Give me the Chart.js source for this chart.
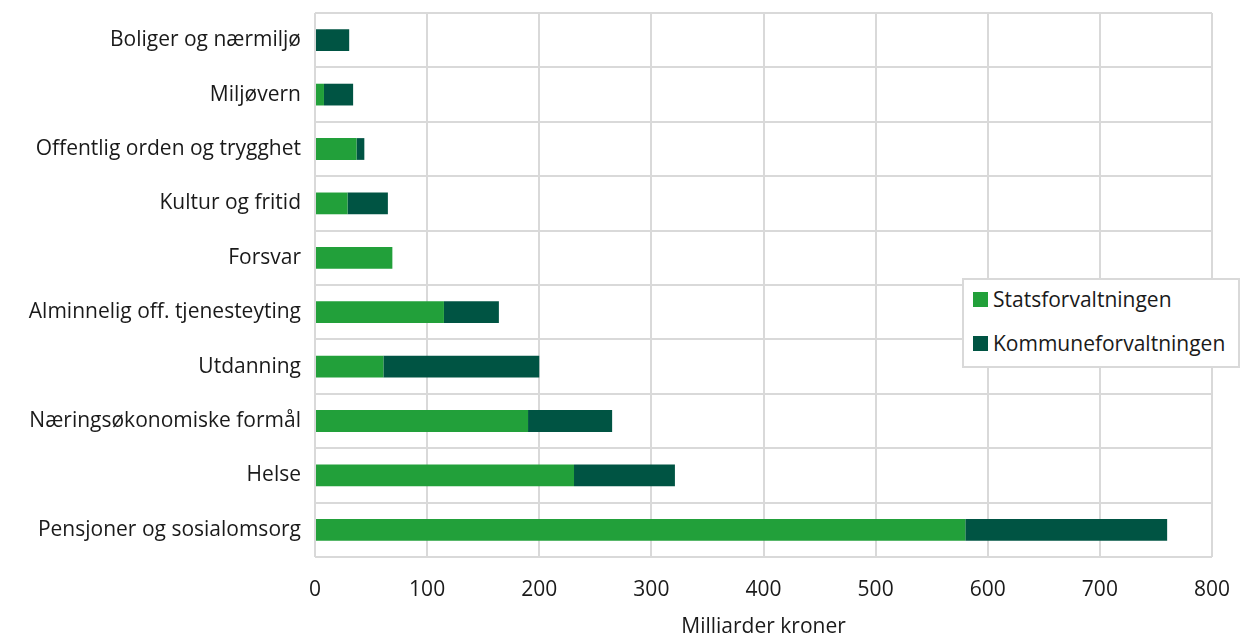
<!DOCTYPE html>
<html>
<head>
<meta charset="utf-8">
<script src="https://cdn.jsdelivr.net/npm/chart.js@4"></script>
<style>
  html, body { margin: 0; padding: 0; background: #fff; }
  #wrap { position: relative; width: 1242px; height: 636px; }
  #legend { position: absolute; left: 962px; top: 278px; width: 278px; height: 90px;
    border: 2px solid #d9d9d9; background: #fff; font-family: "Open Sans", sans-serif;
    font-size: 21px; color: #1a1a1a; box-sizing: border-box; }
  .li { position: absolute; left: 9px; display: flex; align-items: center; white-space: nowrap; }
  .sw { width: 15px; height: 15px; margin-right: 5px; display: inline-block; }
</style>
</head>
<body>
<div id="wrap">
  <canvas id="c" width="1242" height="636"></canvas>
  <div id="legend"></div>
</div>
<script>
const categories = [
  "Boliger og nærmiljø",
  "Miljøvern",
  "Offentlig orden og trygghet",
  "Kultur og fritid",
  "Forsvar",
  "Alminnelig off. tjenesteyting",
  "Utdanning",
  "Næringsøkonomiske formål",
  "Helse",
  "Pensjoner og sosialomsorg"
];
const statsforvaltningen = [0, 8, 37, 29, 69, 115, 61, 190, 231, 580];
const kommuneforvaltningen = [30.5, 26, 7, 36, 0, 49, 139, 75, 90, 180];
const xTicks = [0, 100, 200, 300, 400, 500, 600, 700, 800];
const seriesNames = ["Statsforvaltningen", "Kommuneforvaltningen"];
const seriesColors = ["#22a03a", "#005443"];

const font = { family: "'Open Sans', sans-serif", size: 21 };
const textColor = "#1a1a1a";
const gridColor = "#d9d9d9";

function zeroPad(s) { s.paddingTop = 0; s.paddingBottom = 0; s.paddingLeft = 0; s.paddingRight = 0; }

const chart = new Chart(document.getElementById("c"), {
  type: "bar",
  data: {
    labels: categories,
    datasets: [
      { label: seriesNames[0], data: statsforvaltningen, backgroundColor: seriesColors[0],
        barPercentage: 0.4, categoryPercentage: 1 },
      { label: seriesNames[1], data: kommuneforvaltningen, backgroundColor: seriesColors[1],
        barPercentage: 0.4, categoryPercentage: 1 }
    ]
  },
  options: {
    indexAxis: "y",
    responsive: false,
    animation: false,
    layout: { padding: { top: 13, right: 30, left: 0, bottom: 0 } },
    plugins: { legend: { display: false }, tooltip: { enabled: false } },
    scales: {
      x: {
        stacked: true,
        min: 0, max: 800,
        afterBuildTicks: (s) => { s.ticks = xTicks.map(v => ({ value: v })); },
        afterFit: (s) => { s.height = 79; zeroPad(s); },
        grid: { color: gridColor, lineWidth: 2, drawTicks: false },
        border: { display: false },
        ticks: { font: font, color: textColor, padding: 20, maxRotation: 0 },
        title: { display: true, text: "Milliarder kroner", font: font, color: textColor,
                 padding: { top: 8, bottom: -4 } }
      },
      y: {
        stacked: true,
        afterFit: (s) => { s.width = 315; zeroPad(s); },
        grid: { color: gridColor, lineWidth: 2, drawTicks: false, offset: true },
        border: { display: false },
        ticks: { font: font, color: textColor, padding: 14 }
      }
    }
  }
});

const lg = document.getElementById("legend");
seriesNames.forEach((n, i) => {
  const d = document.createElement("div");
  d.className = "li";
  d.style.top = (i === 0 ? 5 : 49) + "px";
  d.innerHTML = '<span class="sw" style="background:' + seriesColors[i] + '"></span><span>' + n + '</span>';
  lg.appendChild(d);
});
</script>
</body>
</html>
